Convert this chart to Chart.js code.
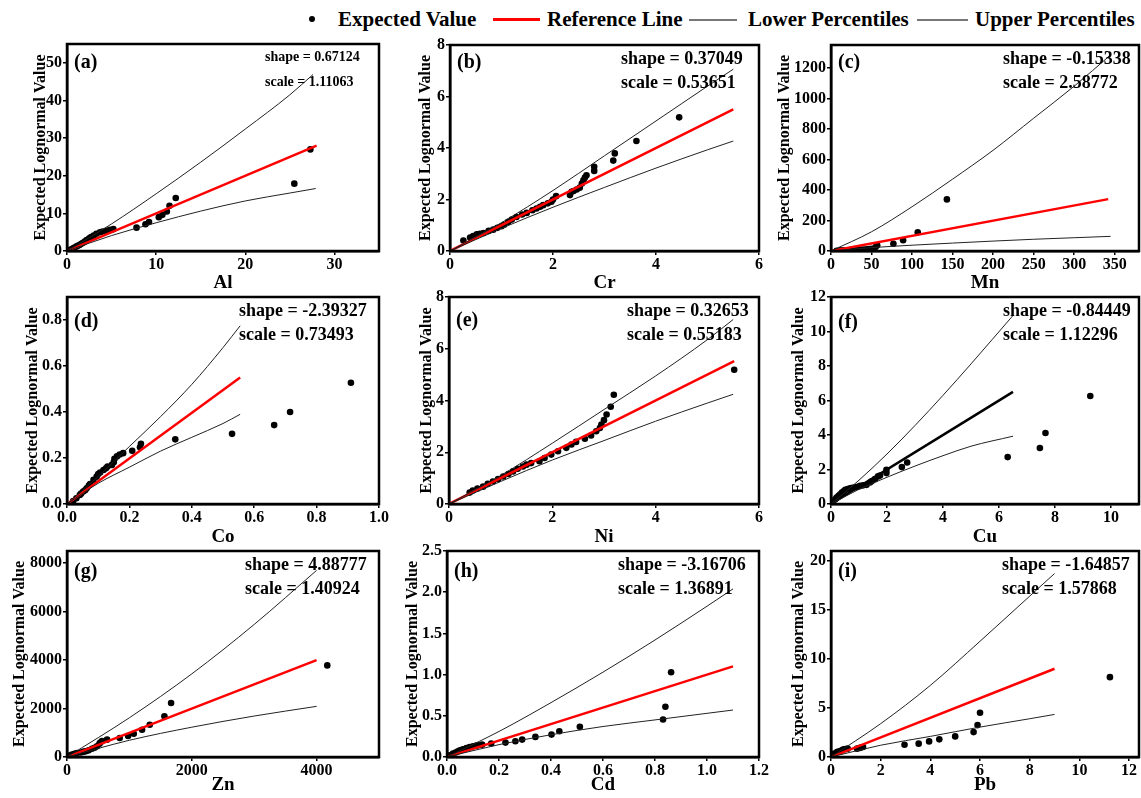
<!DOCTYPE html>
<html>
<head>
<meta charset="utf-8">
<script src="https://cdn.jsdelivr.net/npm/chart.js@4.4.0/dist/chart.umd.min.js"></script>
<style>
body { margin: 0; width: 1141px; height: 798px; overflow: hidden; background: #fff; position: relative;
       font-family: 'Times New Roman', 'Liberation Serif', serif; }
canvas { position: absolute; }
.lg { position: absolute; font-weight: bold; font-size: 21px; line-height: 24px; top: 7px; white-space: nowrap; color: #000; }
.sw { position: absolute; }
</style>
</head>
<body>
<div class="sw" style="left:309px;top:16px;width:6px;height:6px;border-radius:50%;background:#000"></div>
<div class="lg" style="left:338px">Expected Value</div>
<div class="sw" style="left:493px;top:18px;width:47px;height:3px;background:#f00"></div>
<div class="lg" style="left:547px">Reference Line</div>
<div class="sw" style="left:689px;top:19px;width:48px;height:1.5px;background:#777"></div>
<div class="lg" style="left:748px">Lower Percentiles</div>
<div class="sw" style="left:917px;top:19px;width:51px;height:1.5px;background:#777"></div>
<div class="lg" style="left:975px">Upper Percentiles</div>

<script>
// element names and fitted parameters
var elements = ['Al', 'Cr', 'Mn', 'Co', 'Ni', 'Cu', 'Zn', 'Cd', 'Pb'];
var panelIds = ['a', 'b', 'c', 'd', 'e', 'f', 'g', 'h', 'i'];
var shapeVals = ['0.67124', '0.37049', '-0.15338', '-2.39327', '0.32653', '-0.84449', '4.88777', '-3.16706', '-1.64857'];
var scaleVals = ['1.11063', '0.53651', '2.58772', '0.73493', '0.55183', '1.12296', '1.40924', '1.36891', '1.57868'];

// axis ranges / ticks
var xMaxs = [35, 6, 380, 1.0, 6, 11, 5000, 1.2, 12.4];
var xSteps = [10, 2, 50, 0.2, 2, 2, 2000, 0.2, 2];
var xDecs = [0, 0, 0, 1, 0, 0, 0, 1, 0];
var yMaxs = [55, 8, 1350, 0.9, 8, 12, 8500, 2.5, 21];
var ySteps = [10, 2, 200, 0.2, 2, 2, 2000, 0.5, 5];
var yDecs = [0, 0, 0, 1, 0, 0, 0, 1, 0];

// expected values [observed, expected]
var alPts = [[27.3,27.0],[25.5,17.9],[12.2,14.1],[11.5,12.0],[11.2,10.5],[10.7,9.6],[10.3,9.0],[9.2,7.7],[8.8,7.1],[7.8,6.2],[5.2,5.8],[4.8,5.6],[4.4,5.4],[4.0,5.2],[3.7,5.0],[3.3,4.6],[3.0,4.1],[2.7,3.7],[2.5,3.4],[2.2,2.9],[2.0,2.5],[1.8,2.2],[1.6,1.9],[1.4,1.6],[1.2,1.4],[1.05,1.2],[0.85,0.9],[0.7,0.7],[0.5,0.45],[0.3,0.25]];
var crPts = [[4.45,5.19],[3.62,4.27],[3.2,3.79],[3.17,3.51],[2.8,3.27],[2.8,3.11],[2.65,2.94],[2.62,2.85],[2.59,2.75],[2.56,2.62],[2.52,2.46],[2.46,2.39],[2.4,2.33],[2.36,2.3],[2.33,2.17],[2.06,2.13],[2.0,2.0],[1.97,1.91],[1.9,1.85],[1.81,1.78],[1.75,1.72],[1.68,1.65],[1.6,1.58],[1.49,1.48],[1.4,1.42],[1.29,1.32],[1.2,1.22],[1.13,1.13],[1.05,1.02],[1.0,0.96],[0.92,0.9],[0.84,0.83],[0.75,0.78],[0.65,0.7],[0.58,0.67],[0.52,0.65],[0.45,0.58],[0.39,0.52],[0.26,0.41]];
var mnPts = [[143,338],[107,123],[89,70],[77,48],[57,37],[55,26],[50,15],[47,12],[44,11],[40,10],[36,9],[32,8],[28,7],[24,6],[20,5],[15,4],[11,4],[7,2]];
var coPts = [[0.91,0.527],[0.715,0.4],[0.664,0.343],[0.529,0.305],[0.347,0.281],[0.237,0.262],[0.234,0.247],[0.209,0.231],[0.18,0.221],[0.169,0.215],[0.16,0.207],[0.152,0.196],[0.15,0.182],[0.144,0.17],[0.13,0.163],[0.125,0.155],[0.117,0.148],[0.106,0.137],[0.1,0.13],[0.095,0.119],[0.085,0.105],[0.074,0.087],[0.07,0.08],[0.063,0.068],[0.058,0.06],[0.052,0.054],[0.045,0.045],[0.041,0.039],[0.03,0.025],[0.02,0.013]];
var niPts = [[5.52,5.19],[3.19,4.22],[3.13,3.76],[3.05,3.46],[3.0,3.24],[2.95,3.07],[2.92,2.94],[2.85,2.81],[2.75,2.65],[2.63,2.52],[2.46,2.4],[2.37,2.3],[2.27,2.17],[2.11,2.04],[1.98,1.91],[1.85,1.78],[1.75,1.65],[1.59,1.58],[1.5,1.52],[1.43,1.45],[1.33,1.36],[1.24,1.26],[1.15,1.16],[1.05,1.06],[0.95,0.96],[0.85,0.87],[0.75,0.78],[0.66,0.67],[0.55,0.6],[0.46,0.52],[0.4,0.44]];
var cuPts = [[9.26,6.26],[7.66,4.12],[7.46,3.25],[6.31,2.72],[2.72,2.41],[2.53,2.14],[1.98,1.98],[1.98,1.79],[1.75,1.65],[1.68,1.6],[1.57,1.44],[1.45,1.32],[1.39,1.25],[1.27,1.11],[1.15,1.08],[1.04,1.05],[0.95,1.0],[0.86,0.97],[0.76,0.94],[0.68,0.91],[0.6,0.87],[0.51,0.82],[0.45,0.74],[0.39,0.66],[0.33,0.56],[0.27,0.47],[0.2,0.37],[0.15,0.27],[0.07,0.14]];
var znPts = [[4171,3780],[1668,2227],[1561,1677],[1326,1333],[1203,1127],[1070,962],[979,866],[845,784],[642,715],[561,660],[535,600],[520,550],[481,440],[440,380],[400,340],[348,275],[300,240],[267,220],[220,185],[160,165],[120,130],[80,96],[43,55]];
var cdPts = [[0.862,1.028],[0.84,0.61],[0.831,0.455],[0.511,0.366],[0.432,0.313],[0.402,0.272],[0.34,0.244],[0.289,0.211],[0.263,0.191],[0.225,0.175],[0.17,0.163],[0.135,0.15],[0.12,0.143],[0.112,0.138],[0.1,0.13],[0.087,0.122],[0.075,0.11],[0.061,0.093],[0.05,0.08],[0.042,0.069],[0.033,0.055],[0.023,0.041],[0.01,0.02]];
var pbPts = [[11.23,8.14],[6.0,4.51],[5.9,3.25],[5.74,2.54],[5.0,2.1],[4.36,1.8],[3.95,1.59],[3.53,1.36],[2.96,1.25],[1.29,1.02],[1.2,0.96],[1.15,0.92],[1.05,0.85],[0.67,0.85],[0.6,0.82],[0.51,0.78],[0.45,0.7],[0.38,0.61],[0.3,0.56],[0.24,0.51],[0.13,0.34],[0.05,0.17]];

// reference lines
var alRef = [[0,0],[28,28]];
var crRef = [[0,0],[5.5,5.5]];
var mnRef = [[0,0],[342,340]];
var coRef = [[0,0],[0.555,0.55]];
var niRef = [[0,0],[5.52,5.52]];
var cuRef = [[0,0],[6.5,6.5]];
var znRef = [[0,0],[4000,4000]];
var cdRef = [[0,0],[1.1,1.1]];
var pbRef = [[0,0],[9,9]];

// upper percentiles
var alUp = [[0,0],[5,7.2],[10,15.2],[15,23.6],[20,32.4],[25,41.5],[27.6,46.9]];
var crUp = [[0,0],[1,1.1],[2,2.35],[3,3.7],[4,5.05],[5,6.4],[5.5,7.06]];
var mnUp = [[0,0],[50,126],[100,290],[150,471],[200,660],[250,870],[300,1080],[345,1285]];
var coUp = [[0,0],[0.1,0.12],[0.2,0.25],[0.3,0.38],[0.4,0.52],[0.5,0.68],[0.555,0.775]];
var niUp = [[0,0],[1,1.1],[2,2.35],[3,3.65],[4,4.95],[5,6.35],[5.5,7.13]];
var cuUp = [[0,0],[1,1.38],[2,2.9],[3,4.55],[4,6.3],[5,8.12],[6.5,10.93]];
var znUp = [[0,0],[1000,1620],[2000,3430],[3000,5470],[4000,7700]];
var cdUp = [[0,0],[0.2,0.31],[0.4,0.66],[0.6,1.03],[0.8,1.42],[1.0,1.83],[1.1,2.04]];
var pbUp = [[0,0],[2,3.4],[4,7.3],[6,11.8],[8,16.4],[9,18.7]];

// lower percentiles
var alLow = [[0,0],[5,4.1],[10,7.5],[15,10.6],[20,13.3],[25,15.4],[27.9,16.6]];
var crLow = [[0,0],[1,0.88],[2,1.7],[3,2.47],[4,3.22],[5,3.93],[5.5,4.27]];
var mnLow = [[0,0],[50,22],[100,38],[150,52],[200,65],[250,77],[300,87],[345,96]];
var coLow = [[0,0],[0.1,0.09],[0.2,0.16],[0.3,0.23],[0.4,0.29],[0.5,0.35],[0.555,0.39]];
var niLow = [[0,0],[1,0.87],[2,1.7],[3,2.45],[4,3.2],[5,3.9],[5.5,4.24]];
var cuLow = [[0,0],[1,0.85],[2,1.55],[3,2.2],[4,2.8],[5,3.35],[6.5,3.93]];
var znLow = [[0,0],[1000,690],[2000,1230],[3000,1690],[4000,2090]];
var cdLow = [[0,0],[0.2,0.15],[0.4,0.27],[0.6,0.37],[0.8,0.45],[1.0,0.53],[1.1,0.57]];
var pbLow = [[0,0],[2,1.2],[4,2.1],[6,3.05],[8,3.9],[9,4.34]];

var allPts = [alPts, crPts, mnPts, coPts, niPts, cuPts, znPts, cdPts, pbPts];
var allRef = [alRef, crRef, mnRef, coRef, niRef, cuRef, znRef, cdRef, pbRef];
var allUp = [alUp, crUp, mnUp, coUp, niUp, cuUp, znUp, cdUp, pbUp];
var allLow = [alLow, crLow, mnLow, coLow, niLow, cuLow, znLow, cdLow, pbLow];

// page layout of each panel (plot box, title positions)
var boxes = [
    {L: 67,  T: 44,  R: 379,  B: 251, tX: 41,  xT: 283, lblDy: 19, annX: 198, annSize: 14},
    {L: 450, T: 45,  R: 759,  B: 251, tX: 426, xT: 283, lblDy: 18, annX: 171, annSize: 18},
    {L: 831, T: 45,  R: 1139, B: 251, tX: 785, xT: 283, lblDy: 18, annX: 172, annSize: 18},
    {L: 67,  T: 297, R: 379,  B: 504, tX: 33,  xT: 537, lblDy: 25, annX: 172, annSize: 18},
    {L: 449, T: 297, R: 759,  B: 504, tX: 427, xT: 537, lblDy: 24, annX: 178, annSize: 18},
    {L: 831, T: 297, R: 1139, B: 504, tX: 799, xT: 537, lblDy: 26, annX: 172, annSize: 18},
    {L: 67,  T: 551, R: 379,  B: 757, tX: 20,  xT: 785, lblDy: 21, annX: 178, annSize: 18},
    {L: 447, T: 551, R: 759,  B: 757, tX: 413, xT: 785, lblDy: 21, annX: 171, annSize: 18},
    {L: 831, T: 551, R: 1139, B: 757, tX: 799, xT: 785, lblDy: 21, annX: 171, annSize: 18}
];

var FONT = "'Times New Roman', 'Liberation Serif', serif";
var PAD_TOP = 12, PAD_RIGHT = 14;

function toXY(arr) {
    return arr.map(function(p) { return {x: p[0], y: p[1]}; });
}

// frame, panel letter and shape/scale text
var panelDeco = {
    id: 'panelDeco',
    afterDraw: function(chart, args, opts) {
        var ctx = chart.ctx;
        var a = chart.chartArea;
        ctx.save();
        ctx.strokeStyle = '#000';
        ctx.lineWidth = 2.5;
        ctx.strokeRect(a.left, a.top, a.right - a.left, a.bottom - a.top);
        ctx.fillStyle = '#000';
        ctx.textBaseline = 'middle';
        ctx.textAlign = 'left';
        ctx.font = 'bold 20px ' + FONT;
        ctx.fillText('(' + opts.id + ')', a.left + 7, a.top + opts.lblDy);
        ctx.font = 'bold ' + opts.annSize + 'px ' + FONT;
        ctx.fillText('shape = ' + opts.shape, a.left + opts.annX, a.top + (opts.annSize < 16 ? 13 : 14));
        ctx.fillText('scale = ' + opts.scale, a.left + opts.annX, a.top + 38);
        ctx.restore();
    }
};

// ticks only at multiples of the step, up to the axis max
function stepTicks(step, max) {
    return function(scale) {
        var t = [];
        for (var k = 0; k * step <= max + step * 1e-6; k++) {
            t.push({value: k * step});
        }
        scale.ticks = t;
    };
}

for (var i = 0; i < 9; i++) {
    (function(i) {
        var b = boxes[i];
        var left = Math.round(b.tX - 9.6);
        var top = b.T - PAD_TOP;
        var bottom = Math.round(b.xT + 11.4);
        var width = b.R + PAD_RIGHT - left;
        var height = bottom - top;
        var yW = b.L - left;
        var xH = bottom - b.B;

        var cv = document.createElement('canvas');
        cv.width = width;
        cv.height = height;
        cv.style.left = left + 'px';
        cv.style.top = top + 'px';
        document.body.appendChild(cv);

        var refColor = elements[i] === 'Cu' ? '#000' : '#ff0000';

        new Chart(cv.getContext('2d'), {
            type: 'scatter',
            data: {
                datasets: [{
                    label: 'Upper Percentiles',
                    data: toXY(allUp[i]),
                    showLine: true,
                    cubicInterpolationMode: 'monotone',
                    borderColor: '#222',
                    borderWidth: 1,
                    pointRadius: 0
                }, {
                    label: 'Lower Percentiles',
                    data: toXY(allLow[i]),
                    showLine: true,
                    cubicInterpolationMode: 'monotone',
                    borderColor: '#222',
                    borderWidth: 1,
                    pointRadius: 0
                }, {
                    label: 'Reference Line',
                    data: toXY(allRef[i]),
                    showLine: true,
                    borderColor: refColor,
                    borderWidth: 2.5,
                    pointRadius: 0
                }, {
                    label: 'Expected Value',
                    data: toXY(allPts[i]),
                    showLine: false,
                    backgroundColor: '#000',
                    borderColor: '#000',
                    pointRadius: 3.3,
                    borderWidth: 0
                }]
            },
            options: {
                responsive: false,
                animation: false,
                layout: {padding: {top: PAD_TOP, right: PAD_RIGHT, left: 0, bottom: 0}},
                plugins: {
                    legend: {display: false},
                    tooltip: {enabled: false},
                    panelDeco: {id: panelIds[i], shape: shapeVals[i], scale: scaleVals[i],
                                annX: b.annX, annSize: b.annSize, lblDy: b.lblDy}
                },
                scales: {
                    x: {
                        type: 'linear',
                        min: 0,
                        max: xMaxs[i],
                        afterFit: function(s) { s.height = xH; },
                        afterBuildTicks: stepTicks(xSteps[i], xMaxs[i]),
                        ticks: {
                            autoSkip: false,
                            maxRotation: 0,
                            padding: 0,
                            color: '#000',
                            font: {family: FONT, weight: 'bold', size: 16},
                            callback: function(v) { return v.toFixed(xDecs[i]); }
                        },
                        grid: {display: true, drawOnChartArea: false, drawTicks: true, tickLength: 4, color: '#000', lineWidth: 1.5},
                        border: {display: true, color: '#000', width: 2.5},
                        title: {display: true, text: elements[i], color: '#000', padding: 0,
                                font: {family: FONT, weight: 'bold', size: 19, lineHeight: 1.2}}
                    },
                    y: {
                        type: 'linear',
                        min: 0,
                        max: yMaxs[i],
                        afterFit: function(s) { s.width = yW; },
                        afterBuildTicks: stepTicks(ySteps[i], yMaxs[i]),
                        ticks: {
                            autoSkip: false,
                            padding: 1,
                            color: '#000',
                            font: {family: FONT, weight: 'bold', size: 16},
                            callback: function(v) { return v.toFixed(yDecs[i]); }
                        },
                        grid: {display: true, drawOnChartArea: false, drawTicks: true, tickLength: 4, color: '#000', lineWidth: 1.5},
                        border: {display: true, color: '#000', width: 2.5},
                        title: {display: true, text: 'Expected Lognormal Value', color: '#000', padding: 0,
                                font: {family: FONT, weight: 'bold', size: 16, lineHeight: 1.2}}
                    }
                }
            },
            plugins: [panelDeco]
        });
    })(i);
}
</script>
</body>
</html>
